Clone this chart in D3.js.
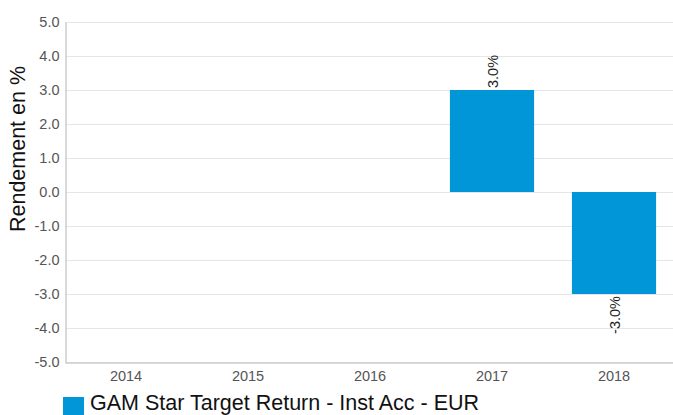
<!DOCTYPE html>
<html>
<head>
<meta charset="utf-8">
<script src="https://cdn.jsdelivr.net/npm/d3@7"></script>
<style>
  body { margin: 0; background: #fff; }
  text { font-family: "Liberation Sans", Arial, sans-serif; }
</style>
</head>
<body>
<div id="chart"></div>
<script>
// Chart data
const years = ["2014", "2015", "2016", "2017", "2018"]
const returns = [null, null, null, 3.0, -3.0]
const yTicks = [-5, -4, -3, -2, -1, 0, 1, 2, 3, 4, 5]
const seriesName = "GAM Star Target Return - Inst Acc - EUR"

const width = 673
const height = 415
const margin = { top: 22, right: -2, bottom: 53, left: 65 }
const barColor = "#0096d8"

// plain hyphen instead of unicode minus
const fmt = d => d3.format(".1f")(d).replace("\u2212", "-")

const svg = d3.select("#chart")
  .append("svg")
  .attr("width", width)
  .attr("height", height)

// Scales
const xScale = d3.scaleBand()
  .domain(years)
  .range([margin.left, width - margin.right])
  .paddingInner(0.31)
  .paddingOuter(0.155)

const yScale = d3.scaleLinear()
  .domain([-5, 5])
  .range([height - margin.bottom, margin.top])

// Grid lines
svg.append("g")
  .selectAll("line")
  .data(yTicks)
  .enter()
  .append("line")
  .attr("x1", margin.left)
  .attr("x2", width)
  .attr("y1", d => yScale(d) + 0.5)
  .attr("y2", d => yScale(d) + 0.5)
  .attr("stroke", "#e6e6e6")
  .attr("stroke-width", 1)

// Y axis
const yAxis = d3.axisLeft(yScale)
  .tickValues(yTicks)
  .tickFormat(fmt)
  .tickSize(0)
  .tickPadding(6)

const yG = svg.append("g")
  .attr("transform", "translate(" + (margin.left + 0.5) + ",0)")
  .call(yAxis)
yG.select(".domain").attr("stroke", "#cccccc").attr("stroke-width", 1.5)
yG.selectAll("text").attr("font-size", 14.5).attr("fill", "#555")

// Bars
const data = years.map((y, i) => ({ year: y, value: returns[i] })).filter(d => d.value !== null)

svg.selectAll("rect.bar")
  .data(data)
  .enter()
  .append("rect")
  .attr("class", "bar")
  .attr("x", d => xScale(d.year))
  .attr("width", xScale.bandwidth())
  .attr("y", d => yScale(Math.max(0, d.value)))
  .attr("height", d => Math.abs(yScale(d.value) - yScale(0)))
  .attr("fill", barColor)

// Value labels
svg.selectAll("text.value")
  .data(data)
  .enter()
  .append("text")
  .attr("class", "value")
  .attr("transform", d => {
    const cx = xScale(d.year) + xScale.bandwidth() / 2 + 5.5
    const cy = d.value >= 0 ? yScale(d.value) - 2 : yScale(d.value) + 2
    return "translate(" + cx + "," + cy + ") rotate(-90)"
  })
  .attr("text-anchor", d => d.value >= 0 ? "start" : "end")
  .attr("font-size", 14.5)
  .attr("fill", "#222")
  .text(d => fmt(d.value) + "%")

// X axis
const xAxis = d3.axisBottom(xScale).tickSize(0).tickPadding(8)
const xG = svg.append("g")
  .attr("transform", "translate(0," + (height - margin.bottom + 0.5) + ")")
  .call(xAxis)
xG.select(".domain").attr("stroke", "#cccccc").attr("stroke-width", 1.5)
xG.selectAll("text").attr("font-size", 14.5).attr("fill", "#555")

// Y axis label
svg.append("text")
  .attr("transform", "translate(25,149) rotate(-90)")
  .attr("text-anchor", "middle")
  .attr("font-size", 21.5)
  .attr("fill", "#111")
  .text("Rendement en %")

// Legend
svg.append("rect")
  .attr("x", 63)
  .attr("y", 397)
  .attr("width", 21)
  .attr("height", 18)
  .attr("fill", barColor)

svg.append("text")
  .attr("x", 90)
  .attr("y", 410)
  .attr("font-size", 21.5)
  .attr("fill", "#111")
  .text(seriesName)
</script>
</body>
</html>
